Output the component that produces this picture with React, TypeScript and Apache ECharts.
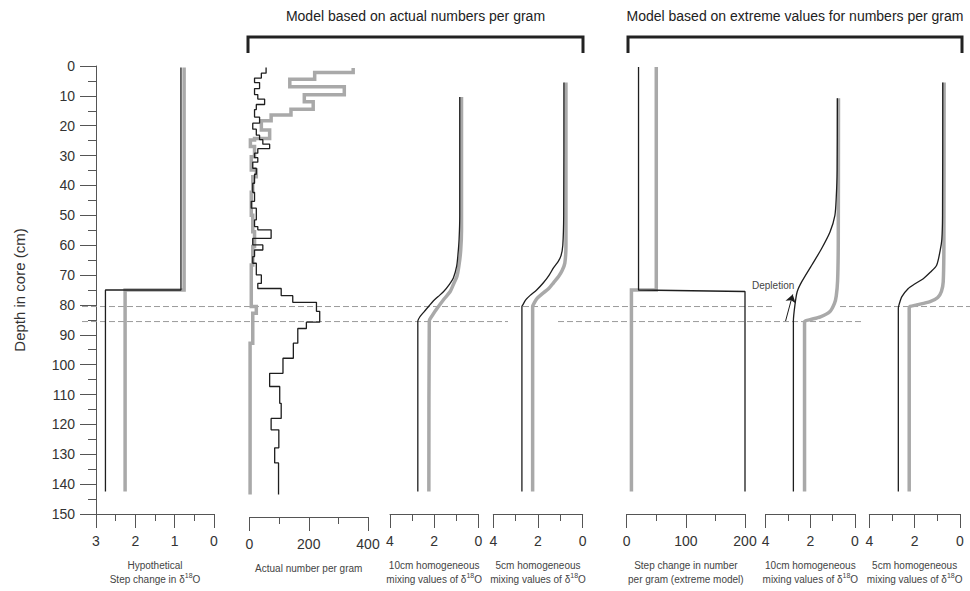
import React, { useEffect, useRef } from "react";
import * as echarts from "echarts";

// ---------------- DATA ----------------
const DEPTH_MIN = 0;
const DEPTH_MAX = 150;
const DEPTH_TICK = 10;
const CORE_BOTTOM = 142.5;

// Panel 1: hypothetical step change in d18O  ([value, depth])
const HYPO_BLACK = [[0.84, 0.5], [0.84, 75], [2.76, 75], [2.76, CORE_BOTTOM]];
const HYPO_GRAY = [[0.76, 0.5], [0.76, 75], [2.26, 75], [2.26, CORE_BOTTOM]];

// Panel 2: actual number per gram (step profiles: interval top depths + values)
const ACT_BLACK_TOPS = [0.5, 2.4, 4.0, 5.5, 7.5, 9.5, 11, 12.8, 14.5, 17, 19, 21, 23, 24.5, 26, 27.5, 29, 30.5, 32, 34, 36, 39, 42, 45, 47.3, 51.2, 53.4, 54.5, 57.3, 59.5, 61.2, 63.4, 65.6, 69.5, 72.3, 74, 76.4, 78.6, 81.6, 85.2, 87.3, 92.2, 97.2, 102.2, 106.6, 112.2, 117.2, 121, 127, 132];
const ACT_BLACK_VALS = [56, 40, 17, 34, 17, 28, 51, 23, 17, 34, 11, 23, 34, 45, 68, 28, 17, 28, 11, 23, 17, 11, 17, 6, 23, 17, 28, 73, 11, 45, 17, 11, 23, 40, 28, 107, 146, 226, 237, 192, 163, 148, 113, 68, 102, 107, 73, 99, 85, 98];
const ACT_GRAY_TOPS = [0.7, 2.2, 4.4, 6.9, 9.6, 11.9, 14.4, 16.3, 18.2, 21.3, 24.1, 24.6, 26.8, 30.2, 34.6, 36.8, 42, 49.6, 55.1, 60, 66.2, 80, 82.2, 92.2];
const ACT_GRAY_VALS = [350, 220, 136, 320, 185, 215, 140, 73, 40, 68, 17, 3, 17, 6, 23, 11, 6, 11, 17, 11, 6, 23, 11, 2];

// Panel 3: 10cm homogeneous mixing (actual numbers)
const MIX10_BLACK = [[0.84, 10.4], [0.84, 50], [0.87, 58], [0.92, 63], [0.98, 67], [1.13, 71], [1.3, 73], [1.58, 75.6], [1.82, 77.2], [2.04, 78.7], [2.26, 80.6], [2.46, 82.3], [2.64, 83.9], [2.74, 85.4], [2.74, CORE_BOTTOM]];
const MIX10_GRAY = [[0.76, 10.4], [0.76, 55], [0.8, 62], [0.88, 67], [0.97, 70.5], [1.12, 73], [1.28, 75.6], [1.55, 78], [1.88, 81.3], [2.08, 83.5], [2.22, 85.4], [2.24, CORE_BOTTOM]];

// Panel 4: 5cm homogeneous mixing (actual numbers)
const MIX5_BLACK = [[0.84, 5.5], [0.85, 50], [0.89, 60], [0.97, 63.5], [1.1, 65.5], [1.3, 67.5], [1.5, 70], [1.75, 72.5], [2.06, 75], [2.35, 76.8], [2.55, 78.3], [2.68, 80], [2.72, 80.5], [2.72, CORE_BOTTOM]];
const MIX5_GRAY = [[0.75, 5.5], [0.75, 60], [0.8, 66], [0.92, 68.5], [1.08, 70.5], [1.3, 72.5], [1.52, 74.5], [1.8, 76.2], [2.04, 77.8], [2.18, 79.5], [2.24, 80.5], [2.24, CORE_BOTTOM]];

// Panel 5: step change in number per gram (extreme model)
const EXT_BLACK = [[20, 0.3], [20, 75], [200, 75.5], [200, CORE_BOTTOM]];
const EXT_GRAY = [[50, 0.3], [50, 75], [8, 75], [8, CORE_BOTTOM]];

// Panel 6: 10cm homogeneous mixing (extreme)
const EMIX10_BLACK = [[0.79, 10.8], [0.8, 35], [0.84, 44], [0.9, 50], [1.12, 55.6], [1.5, 61.2], [1.94, 66.7], [2.39, 72.3], [2.59, 75.6], [2.69, 80], [2.76, 85.4], [2.76, CORE_BOTTOM]];
const EMIX10_GRAY = [[0.74, 10.8], [0.75, 60], [0.78, 72], [0.84, 77], [0.92, 79.5], [1.12, 82.2], [1.55, 84], [2.05, 85], [2.26, 85.6], [2.26, CORE_BOTTOM]];

// Panel 7: 5cm homogeneous mixing (extreme)
const EMIX5_BLACK = [[0.76, 5.5], [0.77, 50], [0.8, 58], [0.88, 62], [1.03, 66.7], [1.3, 69], [1.62, 71.2], [2.0, 73], [2.28, 74.5], [2.57, 77.3], [2.69, 80], [2.72, 81], [2.72, CORE_BOTTOM]];
const EMIX5_GRAY = [[0.7, 5.5], [0.71, 60], [0.74, 72.3], [0.82, 75.5], [0.98, 77.5], [1.32, 78.9], [1.91, 80], [2.2, 80.5], [2.24, 81], [2.24, CORE_BOTTOM]];

// Depletion arrow (panel 6) [value, depth]
const DEPLETION_FROM = [3.11, 85.4];
const DEPLETION_TO = [2.79, 76.5];

// Reference depths (dashed lines)
const REF_DEPTHS = [80, 85];

const HEADERS = ["Model based on actual numbers per gram", "Model based on extreme values for numbers per gram"];
const AXIS_NAMES = [
  "Hypothetical\nStep change in \u03b4{sup|18}O",
  "Actual number per gram",
  "10cm homogeneous\nmixing values of \u03b4{sup|18}O",
  "5cm homogeneous\nmixing values of \u03b4{sup|18}O",
  "Step change in number\nper gram (extreme model)",
  "10cm homogeneous\nmixing values of \u03b4{sup|18}O",
  "5cm homogeneous\nmixing values of \u03b4{sup|18}O",
];
const Y_NAME = "Depth in core (cm)";

// ---------------- LAYOUT ----------------
const FONT = "'Liberation Sans', Arial, Helvetica, sans-serif";
const GRID_TOP = 66;
const GRID_H = 451;
const PANELS = [
  { left: 96, width: 118, min: 0, max: 3, interval: 1, inverse: true },
  { left: 249.5, width: 118.5, min: 0, max: 400, interval: 200, inverse: false },
  { left: 390, width: 88.3, min: 0, max: 4, interval: 2, inverse: true },
  { left: 493.3, width: 89.4, min: 0, max: 4, interval: 2, inverse: true },
  { left: 626.7, width: 118.3, min: 0, max: 200, interval: 100, inverse: false },
  { left: 765.7, width: 89.3, min: 0, max: 4, interval: 2, inverse: true },
  { left: 869.3, width: 90.7, min: 0, max: 4, interval: 2, inverse: true },
];
// horizontal pixel spans of the dashed reference lines, per depth
const REF_SPANS = [
  [[82, 773], [840, 970]],
  [[82, 508], [558, 863]],
];
const BRACKETS = [[248, 583], [628, 962]];

const AXIS_COLOR = "#555";
const BLACK = "#1e1e1e";
const GRAY = "#a9a9a9";

function stepPoints(tops: number[], vals: number[], bottom: number) {
  const pts: number[][] = [];
  for (let i = 0; i < tops.length; i++) {
    const end = i + 1 < tops.length ? tops[i + 1] : bottom;
    pts.push([vals[i], tops[i]]);
    pts.push([vals[i], end]);
  }
  return pts;
}

export default function App() {
  const ref = useRef<HTMLDivElement>(null);
  useEffect(() => {
    document.body.style.margin = "0";
    const chart = echarts.init(ref.current!, null, { renderer: "svg" });

    const grids: any[] = PANELS.map((p) => ({ left: p.left, width: p.width, top: GRID_TOP, height: GRID_H }));
    grids.push({ left: 0, width: 970, top: GRID_TOP, height: GRID_H });

    const xAxes: any[] = PANELS.map((p, i) => ({
      gridIndex: i,
      type: "value",
      min: p.min,
      max: p.max,
      interval: p.interval,
      inverse: p.inverse,
      position: "bottom",
      axisLine: { show: true, onZero: false, lineStyle: { color: AXIS_COLOR, width: 1 } },
      axisTick: { show: true, length: 14, lineStyle: { color: AXIS_COLOR } },
      minorTick: { show: true, splitNumber: 2, length: 7, lineStyle: { color: AXIS_COLOR } },
      axisLabel: { fontSize: 14, color: "#333", margin: 20, fontFamily: FONT },
      splitLine: { show: false },
      minorSplitLine: { show: false },
      name: AXIS_NAMES[i],
      nameLocation: "middle",
      nameGap: 44,
      nameTextStyle: {
        fontSize: 10,
        lineHeight: 14,
        color: "#444",
        fontFamily: FONT,
        rich: { sup: { fontSize: 7, lineHeight: 8, verticalAlign: "top", color: "#444", fontFamily: FONT } },
      },
    }));
    xAxes.push({ gridIndex: 7, type: "value", min: 0, max: 970, show: false });

    const yAxes: any[] = PANELS.map((p, i) => {
      if (i === 0) {
        return {
          gridIndex: 0,
          type: "value",
          min: DEPTH_MIN,
          max: DEPTH_MAX,
          interval: DEPTH_TICK,
          inverse: true,
          position: "left",
          axisLine: { show: true, onZero: false, lineStyle: { color: AXIS_COLOR, width: 1 } },
          axisTick: { show: true, length: 16, lineStyle: { color: AXIS_COLOR } },
          minorTick: { show: true, splitNumber: 2, length: 8, lineStyle: { color: AXIS_COLOR } },
          axisLabel: { fontSize: 14, color: "#333", margin: 21, fontFamily: FONT },
          splitLine: { show: false },
          name: Y_NAME,
          nameLocation: "middle",
          nameGap: 69,
          nameRotate: 90,
          nameTextStyle: { fontSize: 15, color: "#333", fontFamily: FONT },
        };
      }
      return { gridIndex: i, type: "value", min: DEPTH_MIN, max: DEPTH_MAX, inverse: true, show: false };
    });
    yAxes.push({ gridIndex: 7, type: "value", min: DEPTH_MIN, max: DEPTH_MAX, inverse: true, show: false });

    const panelData: [number[][], number[][]][] = [
      [HYPO_GRAY, HYPO_BLACK],
      [stepPoints(ACT_GRAY_TOPS, ACT_GRAY_VALS, CORE_BOTTOM), stepPoints(ACT_BLACK_TOPS, ACT_BLACK_VALS, CORE_BOTTOM)],
      [MIX10_GRAY, MIX10_BLACK],
      [MIX5_GRAY, MIX5_BLACK],
      [EXT_GRAY, EXT_BLACK],
      [EMIX10_GRAY, EMIX10_BLACK],
      [EMIX5_GRAY, EMIX5_BLACK],
    ];
    const smoothPanels = [2, 3, 5, 6];

    const series: any[] = [];
    // dashed reference lines
    REF_DEPTHS.forEach((d, k) => {
      REF_SPANS[k].forEach((span) => {
        series.push({
          type: "line",
          xAxisIndex: 7,
          yAxisIndex: 7,
          data: [[span[0], d], [span[1], d]],
          symbol: "none",
          silent: true,
          z: 1,
          lineStyle: { color: "#9a9a9a", width: 1, type: [6, 3] },
        });
      });
    });
    panelData.forEach(([gray, black], i) => {
      const smooth = smoothPanels.includes(i) ? 0.25 : false;
      series.push({
        type: "line",
        xAxisIndex: i,
        yAxisIndex: i,
        data: gray,
        symbol: "none",
        smooth,
        clip: false,
        z: 2,
        lineStyle: { color: GRAY, width: 3.5, join: "miter" },
      });
      const bs: any = {
        type: "line",
        xAxisIndex: i,
        yAxisIndex: i,
        data: black,
        symbol: "none",
        smooth,
        clip: false,
        z: 3,
        lineStyle: { color: BLACK, width: 1.3 },
      };
      if (i === 5) {
        bs.markLine = {
          silent: true,
          symbol: ["none", "arrow"],
          symbolSize: 8,
          label: { show: false },
          lineStyle: { color: BLACK, width: 1, type: "solid" },
          data: [[{ coord: DEPLETION_FROM }, { coord: DEPLETION_TO }]],
        };
      }
      series.push(bs);
    });

    const graphic: any[] = [];
    BRACKETS.forEach((b, k) => {
      graphic.push({
        type: "polyline",
        shape: { points: [[b[0], 53], [b[0], 37], [b[1], 37], [b[1], 53]] },
        style: { stroke: "#222", lineWidth: 3, fill: null },
      });
      graphic.push({
        type: "text",
        x: (b[0] + b[1]) / 2,
        y: 16,
        style: {
          text: HEADERS[k],
          fontSize: 14,
          fontFamily: FONT,
          fill: "#222",
          textAlign: "center",
          textVerticalAlign: "middle",
        },
      });
    });
    graphic.push({
      type: "text",
      x: 752,
      y: 285,
      style: {
        text: "Depletion",
        fontSize: 10,
        fontFamily: FONT,
        fill: "#444",
        textAlign: "left",
        textVerticalAlign: "middle",
      },
    });

    chart.setOption({
      animation: false,
      backgroundColor: "#ffffff",
      textStyle: { fontFamily: FONT },
      grid: grids,
      xAxis: xAxes,
      yAxis: yAxes,
      series,
      graphic,
    });
    return () => chart.dispose();
  }, []);
  return <div ref={ref} style={{ width: 970, height: 591 }} />;
}
